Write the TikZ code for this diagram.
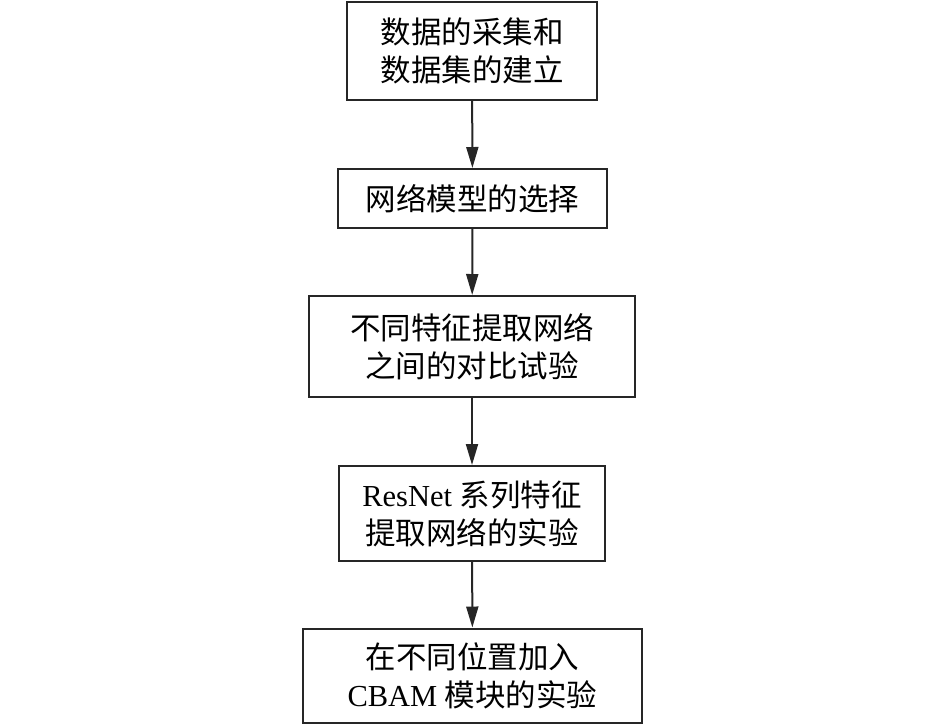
\documentclass[tikz,border=0pt]{standalone}
\usepackage{fontspec}
\setmainfont{Liberation Serif}
\newfontfamily\cjk{Noto Sans CJK SC}
\usetikzlibrary{arrows.meta}
\tikzset{
  stepbox/.style={draw=black!85, line width=2pt, inner sep=0pt, align=center,
    font=\fontsize{30.5}{38}\selectfont},
  flow/.style={draw=black!85, line width=2pt, -{Triangle[length=21pt,width=12pt]}}
}
\begin{document}
\begin{tikzpicture}[x=1pt,y=-1pt]
\useasboundingbox (0,0) rectangle (945,724);
\node[stepbox, minimum width=250pt, minimum height=98pt] (b1) at (472,51) {{\cjk 数据的采集和}\\{\cjk 数据集的建立}};
\node[stepbox, minimum width=269pt, minimum height=59pt] (b2) at (472.5,198.5) {{\cjk 网络模型的选择}};
\node[stepbox, minimum width=326pt, minimum height=101pt] (b3) at (472,346.5) {{\cjk 不同特征提取网络}\\{\cjk 之间的对比试验}};
\node[stepbox, minimum width=266pt, minimum height=95pt] (b4) at (472,513.5) {ResNet {\cjk 系列特征}\\{\cjk 提取网络的实验}};
\node[stepbox, minimum width=339pt, minimum height=94pt] (b5) at (472.5,675.5) {{\cjk 在不同位置加入}\\CBAM {\cjk 模块的实验}};
\draw[flow] (b1) -- (b2);
\draw[flow] (b2) -- (b3);
\draw[flow] (b3) -- (b4);
\draw[flow] (b4) -- (b5);
\end{tikzpicture}
\end{document}
